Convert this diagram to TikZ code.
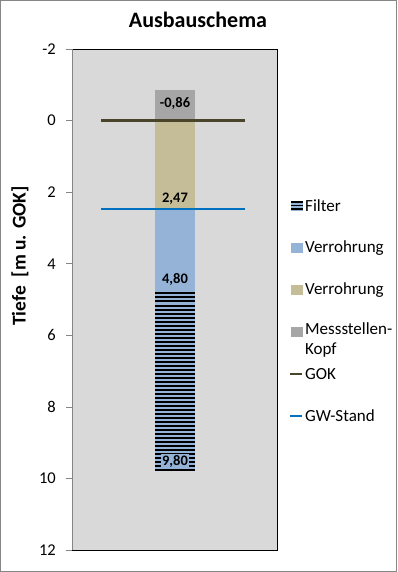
\documentclass[tikz,border=0pt]{standalone}
\usepackage{fontspec}
\setmainfont{Carlito}
\usepackage{tikz}
\usepackage{xcolor}
\usetikzlibrary{calc, positioning}
\definecolor{kopfgrau}{HTML}{A6A6A6}
\definecolor{rohrbeige}{HTML}{C4BD97}
\definecolor{rohrblau}{HTML}{95B3D7}
\definecolor{gokoliv}{HTML}{4A452A}
\definecolor{gwblau}{HTML}{0070C0}
\definecolor{flaeche}{HTML}{D9D9D9}
\definecolor{rahmen}{HTML}{868686}
\tikzset{
    legtext/.style={anchor=west, inner sep=0pt, align=left, font=\fontsize{17}{20}\selectfont},
    datalabel/.style={inner sep=1.5pt, font=\bfseries\fontsize{14.5}{16}\selectfont},
    ticklabel/.style={anchor=east, inner sep=0pt, font=\fontsize{16.5}{18}\selectfont},
    filterstrich/.style={black, line width=2pt},
    pegel/.style={line width=2.8pt}
}
\newcommand{\legendpatch}[4]{
    \node[inner sep=0cm] (#1-s) at (297, #2) {};
    \fill[#3] ($(#1-s) + (-6, -5)$) rectangle ($(#1-s) + (6, 5)$);
    \node[legtext] (#1-t) at (305, #2) {#4};
}
\newcommand{\legendline}[4]{
    \node[inner sep=0cm] (#1-l) at (289, #2) {};
    \node[inner sep=0cm] (#1-r) at (303, #2) {};
    \draw[pegel, #3] (#1-l) -- (#1-r);
    \node[legtext] (#1-t) at (305, #2) {#4};
}

\begin{document}
\begin{tikzpicture}[x=1pt, y=-1pt]
    \useasboundingbox (0, 0) rectangle (397, 572);
    \draw[rahmen, line width=0.8pt] (0.5, 0.5) rectangle (396.5, 571.5);
    \node[font=\bfseries\fontsize{22}{26}\selectfont] (titel) at (198, 20) {Ausbauschema};
    \node[rotate=90, font=\bfseries\fontsize{19.5}{22}\selectfont] (achse) at (20, 256) {Tiefe~~[m u. GOK]};
    \fill[flaeche] (72, 49) rectangle (277, 550);
    \draw[black, line width=0.8pt] (72, 49) -- (277, 49) -- (277, 550) -- (72, 550);
    \draw[rahmen, line width=0.8pt] (72, 49) -- (72, 550);
    \begin{scope}[yshift=-120.6pt, y=-35.8pt]
        \foreach \t in {-2, 0, ..., 12} {
            \draw[rahmen, line width=0.8pt] (66, \t) -- (72, \t);
            \node[ticklabel] (tick\t) at (56, \t) {\t};
        }
        \fill[kopfgrau] (155, -0.86) rectangle (195, 0);
        \fill[rohrbeige] (155, 0) rectangle (195, 2.47);
        \fill[rohrblau] (155, 2.47) rectangle (195, 9.80);
        \foreach \i in {0, ..., 44} {
            \draw[filterstrich] (155, {4.828 + \i*0.11236}) -- (195, {4.828 + \i*0.11236});
        }
        \node[datalabel] (l-kopf) at (175, -0.49) {-0,86};
        \node[datalabel] (l-gw) at (175, 2.18) {2,47};
        \node[datalabel] (l-rohr) at (175, 4.45) {4,80};
        \node[datalabel, fill=rohrblau] (l-filter) at (175, 9.51) {9,80};
        \coordinate (gok-l) at (101, 0);
        \coordinate (gok-r) at (245, 0);
        \coordinate (gw-l) at (101, 2.47);
        \coordinate (gw-r) at (245, 2.47);
        \draw[pegel, gokoliv] (gok-l) -- (gok-r);
        \draw[pegel, gwblau] (gw-l) -- (gw-r);
    \end{scope}
    \legendpatch{leg-filter}{205.5}{rohrblau}{Filter}
    \foreach \s in {202, 205.5, 209} {
        \draw[black, line width=1.5pt] (291, \s) -- (303, \s);
    }
    \legendpatch{leg-blau}{248}{rohrblau}{Verrohrung}
    \legendpatch{leg-beige}{290}{rohrbeige}{Verrohrung}
    \legendpatch{leg-kopf}{332}{kopfgrau}{}
    \node[legtext, anchor=north west] (leg-kopf-t) at (305, 322) {Messstellen-\\Kopf};
    \legendline{leg-gok}{374}{gokoliv}{GOK}
    \legendline{leg-gw}{416}{gwblau}{GW-Stand}
\end{tikzpicture}
\end{document}
